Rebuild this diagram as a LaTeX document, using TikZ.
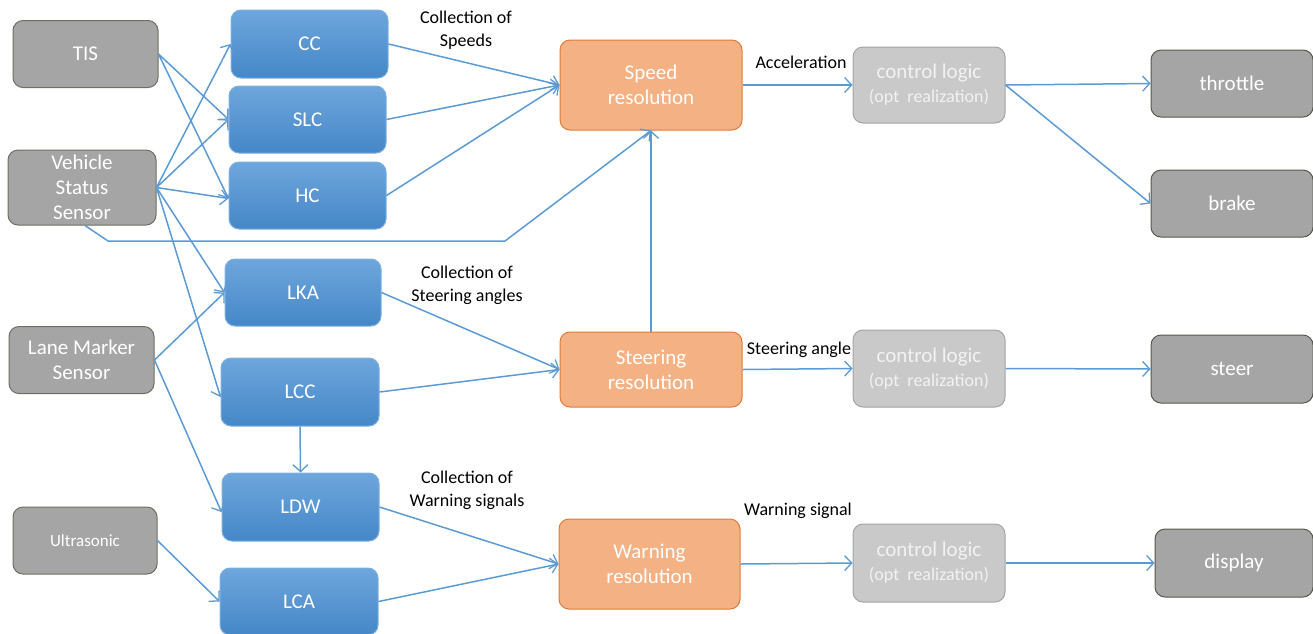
\documentclass[tikz,border=0pt]{standalone}
\usepackage{fontspec}
\setmainfont{Carlito}
\usetikzlibrary{arrows.meta}
\definecolor{srcgray}{HTML}{A5A5A5}
\definecolor{srcedge}{HTML}{6E6E62}
\definecolor{bluetop}{HTML}{6EA6DC}
\definecolor{bluebot}{HTML}{4587C8}
\definecolor{blueedge}{HTML}{7DB0E0}
\definecolor{orfill}{HTML}{F4B183}
\definecolor{oredge}{HTML}{E07B39}
\definecolor{clfill}{HTML}{C9C9C9}
\definecolor{cledge}{HTML}{A3A3A3}
\definecolor{link}{HTML}{5B9BD5}
\tikzset{
  box/.style={rounded corners=10pt, align=center, text=white, inner sep=0pt,
    font=\fontsize{21}{25}\selectfont, line width=1pt},
  src/.style={box, fill=srcgray, draw=srcedge, minimum width=145pt, minimum height=67pt},
  func/.style={box, top color=bluetop, bottom color=bluebot, draw=blueedge,
    minimum width=157pt, minimum height=67pt},
  resol/.style={box, fill=orfill, draw=oredge, minimum width=182pt},
  ctrl/.style={box, fill=clfill, draw=cledge, minimum width=152pt, minimum height=77pt,
    text=white!95!black},
  act/.style={box, fill=srcgray, draw=srcedge!80!black, minimum width=162pt, minimum height=67pt},
  lab/.style={align=center, font=\fontsize{18}{23}\selectfont, text=black},
  flow/.style={draw=link, line width=1.5pt, -{Straight Barb[length=7pt,width=15pt,line width=1.3pt]}}
}
\newcommand{\optline}{{\fontsize{18}{21}\selectfont(opt\ \ realization)}}
\begin{document}
\begin{tikzpicture}[x=1pt,y=-1pt]
\useasboundingbox (0,0) rectangle (1313,633);

% sensors
\node[src] (tis) at (85.5,54) {TIS};
\node[src, minimum width=148pt, minimum height=75pt] (vss) at (82,187.5) {Vehicle\\Status\\Sensor};
\node[src] (lms) at (81.5,360) {Lane Marker\\Sensor};
\node[src, minimum width=144pt, font=\fontsize{17}{20}\selectfont] (ult) at (85,540.5) {Ultrasonic};

% driving functions
\node[func, minimum height=68pt] (cc) at (309.5,44) {CC};
\node[func] (slc) at (307.5,119.5) {SLC};
\node[func] (hc) at (307.5,195.5) {HC};
\node[func, minimum width=156pt] (lka) at (303,292.5) {LKA};
\node[func, minimum width=158pt, minimum height=68pt] (lcc) at (300,392) {LCC};
\node[func, minimum height=68pt] (ldw) at (300.5,507) {LDW};
\node[func, minimum width=158pt] (lca) at (299,601.5) {LCA};

% resolution blocks
\node[resol, minimum height=90pt] (spd) at (651,85) {Speed\\resolution};
\node[resol, minimum height=75pt] (str) at (651,369.5) {Steering\\resolution};
\node[resol, minimum width=181pt, minimum height=90pt] (wrn) at (649.5,564) {Warning\\resolution};

% control logic
\node[ctrl, minimum height=76pt] (cl1) at (929,85) {control logic\\[-1pt]\optline};
\node[ctrl] (cl2) at (929,368.5) {control logic\\[-1pt]\optline};
\node[ctrl, minimum height=78pt] (cl3) at (929,563) {control logic\\[-1pt]\optline};

% actuators
\node[act] (thr) at (1232,83.5) {throttle};
\node[act] (brk) at (1232,203.5) {brake};
\node[act, minimum height=68pt] (ste) at (1232,369) {steer};
\node[act, minimum width=158pt, minimum height=68pt] (dsp) at (1234,563) {display};

% labels
\node[lab] (l1) at (466,30.5) {Collection of\\Speeds};
\node[lab] (l2) at (801,62) {Acceleration};
\node[lab] (l3) at (467,285) {Collection of\\Steering angles};
\node[lab] (l4) at (799,350) {Steering angle};
\node[lab] (l5) at (467,490) {Collection of\\Warning signals};
\node[lab] (l6) at (798,511) {Warning signal};

% sensor inputs
\draw[flow] (tis.east) -- (slc.west);
\draw[flow] (tis.east) -- ([yshift=-3pt]hc.west);
\draw[flow] (vss.east) -- (cc.west);
\draw[flow] (vss.east) -- (slc.west);
\draw[flow] (vss.east) -- ([yshift=-3pt]hc.west);
\draw[flow] (vss.east) -- (lka.west);
\draw[flow] (vss.east) -- ([yshift=-5pt]lcc.west);
\draw[flow] (lms.east) -- (lka.west);
\draw[flow] (lms.east) -- ([yshift=-5pt]ldw.west);
\draw[flow] (ult.east) -- (lca.west);
\coordinate (b1) at (108,241);
\coordinate (b2) at (505,241);
\draw[flow] ([xshift=3pt]vss.south) -- (b1) -- (b2) -- (spd.south);
\draw[flow] (str.north) -- (spd.south);
\draw[flow] (lcc.south) -- (ldw.north);

% function outputs
\draw[flow] (cc.east) -- (spd.west);
\draw[flow] (slc.east) -- (spd.west);
\draw[flow] (hc.east) -- (spd.west);
\draw[flow] (lka.east) -- (str.west);
\draw[flow] (lcc.east) -- (str.west);
\draw[flow] (ldw.east) -- (wrn.west);
\draw[flow] (lca.east) -- (wrn.west);

% resolution to control logic
\draw[flow] (spd.east) -- (cl1.west);
\draw[flow] (str.east) -- (cl2.west);
\draw[flow] (wrn.east) -- (cl3.west);

% control logic to actuators
\draw[flow] (cl1.east) -- (thr.west);
\draw[flow] (cl1.east) -- (brk.west);
\draw[flow] (cl2.east) -- (ste.west);
\draw[flow] (cl3.east) -- (dsp.west);
\end{tikzpicture}
\end{document}
